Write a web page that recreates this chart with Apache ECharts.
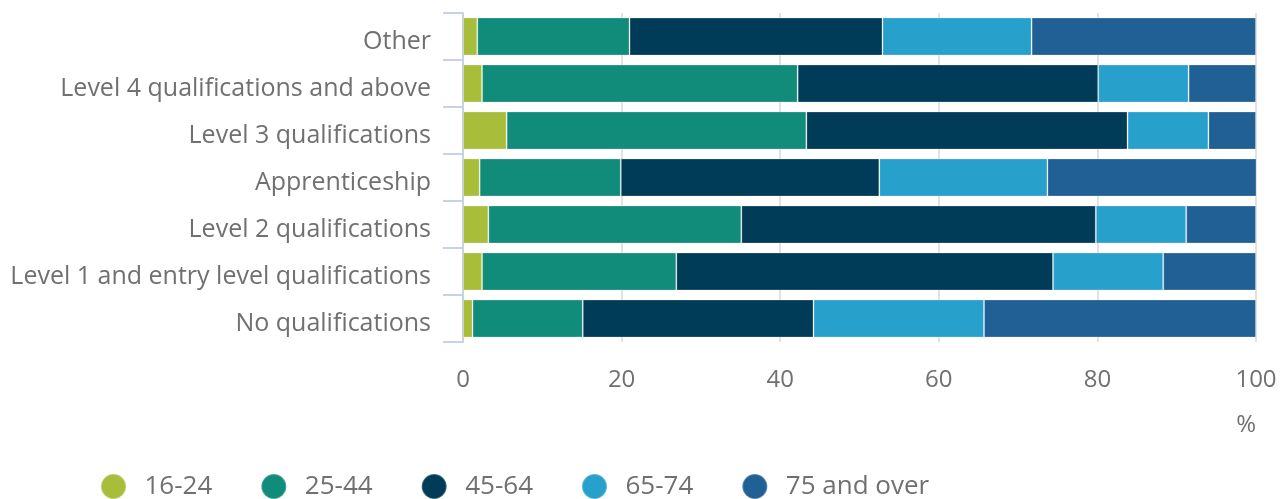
<!DOCTYPE html>
<html>
<head>
<meta charset="utf-8">
<script src="https://cdn.jsdelivr.net/npm/echarts@6/dist/echarts.min.js"></script>
<style>html,body{margin:0;padding:0;background:#fff}#c{width:1284px;height:499px}</style>
</head>
<body>
<div id="c"></div>
<script>
const categories = ["Other","Level 4 qualifications and above","Level 3 qualifications","Apprenticeship","Level 2 qualifications","Level 1 and entry level qualifications","No qualifications"];
const seriesNames = ["16-24","25-44","45-64","65-74","75 and over"];
const age16_24 = [1.8, 2.4, 5.5, 2.1, 3.2, 2.4, 1.2];
const age25_44 = [19.2, 39.8, 37.8, 17.8, 31.9, 24.5, 13.9];
const age45_64 = [31.9, 37.9, 40.5, 32.6, 44.7, 47.5, 29.1];
const age65_74 = [18.8, 11.4, 10.2, 21.2, 11.4, 13.9, 21.5];
const age75plus = [28.3, 8.5, 6.0, 26.4, 8.8, 11.7, 34.3];
const xTicks = [0, 20, 40, 60, 80, 100];
const colors = ["#a8bd3a","#118c7b","#003c57","#27a0cc","#206095"];
const dataSets = [age16_24, age25_44, age45_64, age65_74, age75plus];
const font = "'Open Sans', sans-serif";
const txt = "#707070";

const chart = echarts.init(document.getElementById('c'), null, {renderer:'canvas'});
chart.setOption({
  animation: false,
  grid: {left: 463, right: 28, top: 13, bottom: 157, containLabel: false},
  legend: {
    data: seriesNames, left: 100, top: 473, padding: 0, icon: 'circle',
    itemWidth: 26, itemHeight: 25, itemGap: 48,
    textStyle: {color: txt, fontSize: 26, fontFamily: font, padding: [0,0,0,13]}
  },
  xAxis: {
    type: 'value', min: xTicks[0], max: xTicks[xTicks.length-1], interval: 20,
    axisLine: {show: false}, axisTick: {show: false},
    axisLabel: {color: txt, fontSize: 24, fontFamily: font, margin: 26},
    splitLine: {show: true, lineStyle: {color: '#e2e2e2', width: 2}}
  },
  yAxis: {
    type: 'category', data: categories, inverse: true,
    axisLine: {show: true, lineStyle: {color: '#c8d2e6', width: 2}},
    axisTick: {show: true, length: 20, lineStyle: {color: '#c8d2e6', width: 2}},
    axisLabel: {
      margin: 32,
      formatter: v => '{a|' + v + '}',
      rich: {a: {color: txt, fontSize: 25, fontFamily: font, padding: [10, 0, 0, 0]}}
    }
  },
  graphic: [{type: 'text', right: 28, top: 413, style: {text: '%', fill: txt, font: "24px 'Open Sans', sans-serif"}}],
  series: dataSets.map((d, i) => ({
    name: seriesNames[i], type: 'bar', stack: 'total', data: d,
    barCategoryGap: '19%',
    itemStyle: {color: colors[i], borderColor: 'rgba(255,255,255,0.25)', borderWidth: 1}
  }))
});
</script>
</body>
</html>
